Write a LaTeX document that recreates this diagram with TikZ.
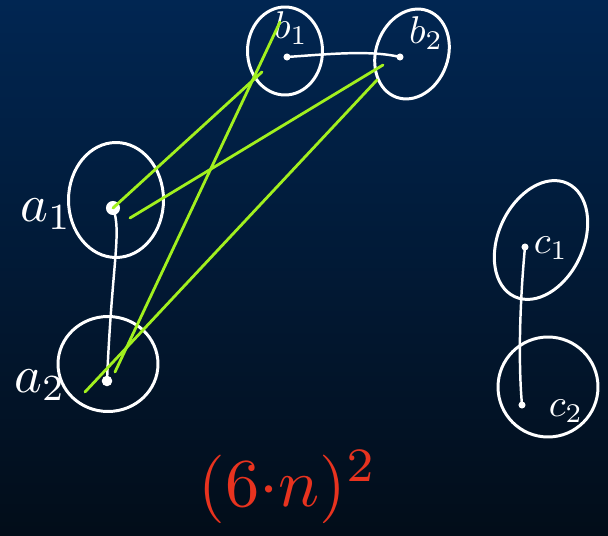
\documentclass[tikz,border=0pt]{standalone}
\usetikzlibrary{shapes.geometric}
\definecolor{bgtop}{HTML}{012652}
\definecolor{bgbot}{HTML}{020D19}
\definecolor{lime}{HTML}{A2F01E}
\definecolor{redink}{HTML}{E8331F}
\begin{document}
\begin{tikzpicture}[x=0.02cm,y=-0.02cm,
  ring/.style={draw=white,line width=1.7pt,ellipse,inner sep=0pt},
  vdot/.style={circle,fill=white,inner sep=0pt,minimum size=#1},
  vdot/.default=5pt,
  lab/.style={text=white,inner sep=0pt},
  wedge/.style={draw=white,line width=1.4pt,line cap=round},
  gedge/.style={draw=lime,line width=1.6pt,line cap=round}]
\shade[top color=bgtop,bottom color=bgbot] (0,0) rectangle (608,536);
\useasboundingbox (0,0) rectangle (608,536);

% rings
\node[ring,minimum width=1.9cm,minimum height=2.3cm] (A1) at (116,200) {};
\node[ring,minimum width=2.0cm,minimum height=1.9cm] (A2) at (108,364) {};
\node[ring,minimum width=1.5cm,minimum height=1.76cm] (B1) at (285,51) {};
\node[ring,minimum width=1.44cm,minimum height=1.84cm,rotate=-20] (B2) at (412,54) {};
\node[ring,minimum width=1.7cm,minimum height=2.5cm,rotate=-25] (C1) at (541,240) {};
\node[ring,minimum width=2.0cm,minimum height=2.0cm] (C2) at (548,387) {};

% vertex dots
\node[vdot=8pt] (a1) at (113,208) {};
\node[vdot=6pt] (a2) at (107,381) {};
\node[vdot=4pt] (b1) at (287,57) {};
\node[vdot=4pt] (b2) at (400,57) {};
\node[vdot=4pt] (c1) at (525,247) {};
\node[vdot=4pt] (c2) at (522,405) {};

% labels
\node[lab,scale=3] (la1) at (46,214) {$a_1$};
\node[lab,scale=3] (la2) at (40,385) {$a_2$};
\node[lab,scale=2.2] (lb1) at (291,28) {$b_1$};
\node[lab,scale=2.2] (lb2) at (426,33) {$b_2$};
\node[lab,scale=2.2] (lc1) at (551,248) {$c_1$};
\node[lab,scale=2.2] (lc2) at (566,411) {$c_2$};

% white edges
\draw[wedge] (a1.center) .. controls (122,232) and (112,262) .. (a2.center);
\draw[wedge] (b1.center) .. controls (330,54) and (370,50) .. (b2.center);
\draw[wedge] (c1.center) .. controls (520,300) and (518,360) .. (c2.center);

% green edges
\coordinate (g1) at (262,72);
\coordinate (g2) at (383,65);
\coordinate (g3) at (280,22);
\coordinate (g4) at (377,80);
\coordinate (h2) at (130,218);
\coordinate (h3) at (115,372);
\coordinate (h4) at (85,392);
\draw[gedge] (g1) -- (a1.center);
\draw[gedge] (g2) -- (h2);
\draw[gedge] (g3) -- (h3);
\draw[gedge] (g4) -- (h4);

% red expression
\node[text=redink,inner sep=0pt,scale=3.9] (expr) at (288,487) {$(6{\cdot}n)^2$};
\end{tikzpicture}
\end{document}
